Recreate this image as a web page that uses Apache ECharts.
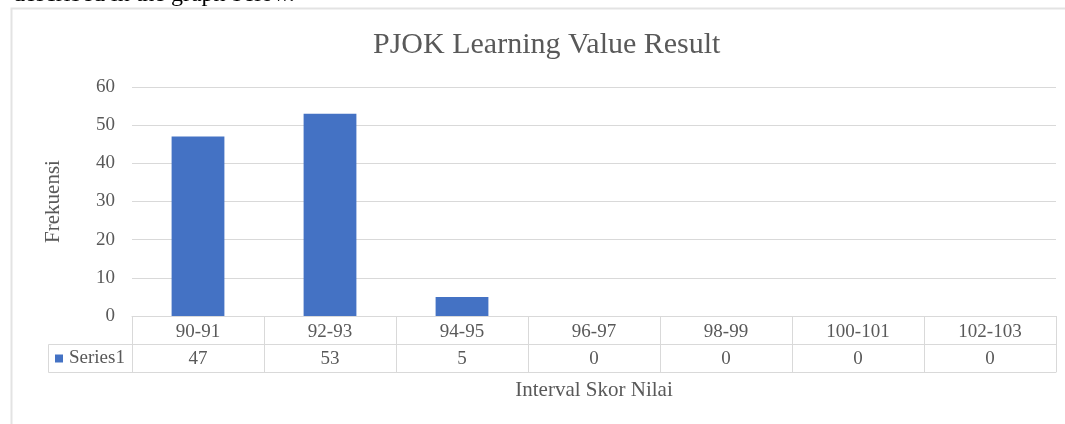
<!DOCTYPE html>
<html>
<head>
<meta charset="utf-8">
<script src="https://cdn.jsdelivr.net/npm/echarts@6/dist/echarts.min.js"></script>
<style>
  html, body { margin: 0; padding: 0; background: #fff; }
  #chart { width: 1065px; height: 424px; }
</style>
</head>
<body>
<div id="chart"></div>
<script>
  // data
  var categories = ['90-91', '92-93', '94-95', '96-97', '98-99', '100-101', '102-103'];
  var series1 = [47, 53, 5, 0, 0, 0, 0];
  var yTicks = { min: 0, max: 60, interval: 10 };

  var serif = '"Liberation Serif", "DejaVu Serif", serif';
  var grey = '#595959';
  var border = '#d9d9d9';

  // plot area layout
  var gLeft = 132, gRight = 9, gTop = 87, gBottom = 108;
  var rowH = 28;

  var chart = echarts.init(document.getElementById('chart'));
  chart.setOption({
    animation: false,
    backgroundColor: '#fff',
    textStyle: { fontFamily: serif },
    title: {
      text: 'PJOK Learning Value Result',
      left: 368,
      top: 25,
      textStyle: { fontFamily: serif, fontSize: 30, fontWeight: 'normal', color: grey }
    },
    legend: {
      data: ['Series1'],
      left: 55,
      top: 424 - gBottom + rowH + 5,
      padding: 0,
      icon: 'rect',
      itemWidth: 8,
      itemHeight: 8,
      itemGap: 0,
      textStyle: { fontFamily: serif, fontSize: 19, color: grey, padding: [0, 0, 0, 1] }
    },
    grid: { left: gLeft, right: gRight, top: gTop, bottom: gBottom },
    xAxis: [
      {
        type: 'category',
        data: categories,
        position: 'bottom',
        axisLine: { show: true, lineStyle: { color: border } },
        axisTick: { show: true, interval: 0, length: rowH, lineStyle: { color: border } },
        axisLabel: { interval: 0, margin: 7, fontFamily: serif, fontSize: 19, color: grey }
      },
      {
        type: 'category',
        data: categories,
        position: 'bottom',
        offset: rowH,
        axisLine: { show: true, lineStyle: { color: border } },
        axisTick: { show: true, interval: 0, length: rowH, lineStyle: { color: border } },
        axisLabel: {
          interval: 0, margin: 6, fontFamily: serif, fontSize: 19, color: grey,
          formatter: function (v, i) { return String(series1[i]); }
        }
      },
      {
        type: 'category',
        data: categories,
        position: 'bottom',
        offset: rowH * 2,
        axisLine: { show: true, lineStyle: { color: border } },
        axisTick: { show: false },
        axisLabel: { show: false },
        name: 'Interval Skor Nilai',
        nameLocation: 'middle',
        nameGap: 8,
        nameTextStyle: { fontFamily: serif, fontSize: 21, color: grey }
      }
    ],
    yAxis: {
      type: 'value',
      min: yTicks.min,
      max: yTicks.max,
      interval: yTicks.interval,
      name: 'Frekuensi',
      nameLocation: 'middle',
      nameRotate: 90,
      nameGap: 68,
      nameTextStyle: { fontFamily: serif, fontSize: 21, color: grey },
      axisLine: { show: false },
      axisTick: { show: false },
      axisLabel: { margin: 17, fontFamily: serif, fontSize: 19, color: grey },
      splitLine: { lineStyle: { color: border } }
    },
    series: [
      {
        name: 'Series1',
        type: 'bar',
        data: series1,
        barWidth: '40%',
        itemStyle: { color: '#4472C4' }
      }
    ],
    graphic: [
      {
        type: 'rect',
        silent: true,
        z: -1,
        shape: { x: 11.5, y: 8.5, width: 1080, height: 440 },
        style: { fill: null, stroke: '#e3e3e3', lineWidth: 2 }
      },
      {
        // legend cell of the data table
        type: 'rect',
        silent: true,
        shape: { x: 48.5, y: 424 - gBottom + rowH + 0.5, width: gLeft - 48, height: rowH },
        style: { fill: null, stroke: border, lineWidth: 1 }
      },
      {
        // page text cut off by the crop
        type: 'text',
        silent: true,
        style: {
          x: 13, y: 7,
          text: 'described in the graph below.',
          fontFamily: serif, fontSize: 24, fill: '#000',
          verticalAlign: 'bottom'
        }
      }
    ]
  });
</script>
</body>
</html>
